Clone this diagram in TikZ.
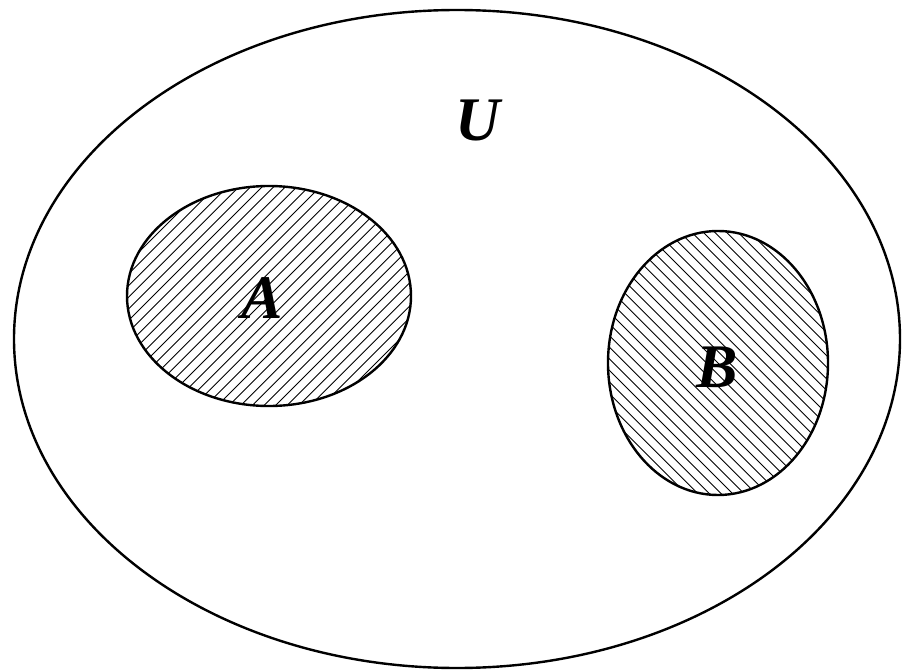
\documentclass[tikz,border=0pt]{standalone}
\usepackage{fontspec}
\setmainfont{Liberation Serif}
\begin{document}
\begin{tikzpicture}[x=1pt,y=-1pt,
  setline/.style={draw=black,line width=2.4pt},
  hatch/.style={draw=black,line width=0.9pt},
  lbl/.style={font=\fontsize{62}{62}\selectfont\bfseries\itshape,inner sep=0pt}]
\useasboundingbox (0,0) rectangle (902,671);
% outer set U
\draw[setline] (457,339) ellipse [x radius=443, y radius=329];
% set A hatched with / lines
\begin{scope}
  \clip (269,296) ellipse [x radius=142, y radius=110];
  \foreach \k in {-40,...,40}{
    \draw[hatch] (269+\k*11.6-200,296+200) -- (269+\k*11.6+200,296-200);
  }
\end{scope}
% set B hatched with \ lines
\begin{scope}
  \clip (718,363) ellipse [x radius=110, y radius=132];
  \foreach \k in {-40,...,40}{
    \draw[hatch] (718+\k*11.6-200,363-200) -- (718+\k*11.6+200,363+200);
  }
\end{scope}
\draw[setline] (269,296) ellipse [x radius=142, y radius=110];
\draw[setline] (718,363) ellipse [x radius=110, y radius=132];
\node[lbl] (lA) at (262,298) {A};
\node[lbl] (lB) at (717,367) {B};
\node[lbl] (lU) at (478,120) {U};
\end{tikzpicture}
\end{document}
